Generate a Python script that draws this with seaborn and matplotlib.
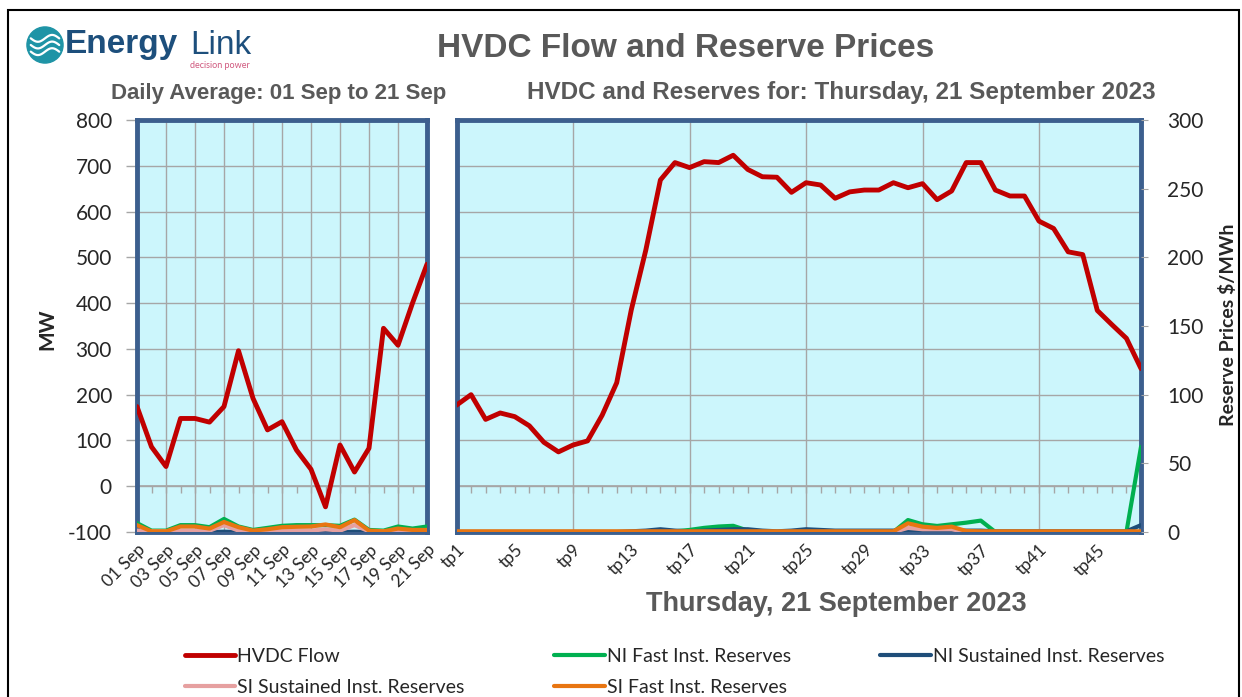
import numpy as np
import pandas as pd
import matplotlib
matplotlib.use("Agg")
import matplotlib.pyplot as plt
import seaborn as sns
from matplotlib.patches import Rectangle, Circle

# ---- daily averages (left panel) ----
days = ["01 Sep", "02 Sep", "03 Sep", "04 Sep", "05 Sep", "06 Sep", "07 Sep",
        "08 Sep", "09 Sep", "10 Sep", "11 Sep", "12 Sep", "13 Sep", "14 Sep",
        "15 Sep", "16 Sep", "17 Sep", "18 Sep", "19 Sep", "20 Sep", "21 Sep"]
hvdc_daily = [174, 86, 43, 148, 148, 140, 174, 296, 192, 123, 141, 79, 37, -45,
              90, 31, 83, 345, 308, 400, 485]
ni_fast_daily = [6.5, 1, 1, 5, 5, 3.5, 9.5, 4, 1.5, 3, 4.5, 5, 5, 5, 4.5, 9, 1.5, 1, 4, 2.5, 4]
ni_sust_daily = [0, 0, 0, 0, 0, 0, 0.2, 0, 0, 0, 0, 0, 0, 0.2, 0, 0.2, 0, 0, 0, 0, 0]
si_sust_daily = [1, 0.5, 0.5, 1, 1, 1, 5, 1, 0.5, 0.5, 1, 1, 1, 2, 1, 5, 0.5, 0.5, 1, 1, 1]
si_fast_daily = [5, 0.5, 0.5, 4, 4, 2.5, 7.3, 3.5, 1, 2, 3.5, 3.8, 4, 5.5, 3.5, 8.7, 1, 0.5, 2.5, 1.5, 1.5]

# ---- trading periods, Thursday 21 September 2023 (right panel) ----
tps = [f"tp{i}" for i in range(1, 49)]
hvdc_tp = [177, 200, 146, 160, 152, 132, 96, 75, 90, 99, 155, 226, 385, 516,
           669, 707, 696, 709, 707, 723, 692, 676, 675, 642, 663, 658, 629, 643,
           647, 647, 663, 652, 661, 626, 645, 707, 707, 647, 634, 634, 579, 563,
           512, 506, 384, 353, 323, 257]
ni_fast_tp = [0, 0, 0, 0, 0, 0, 0, 0, 0, 0, 0, 0, 0, 0, 0, 0.5, 1.5, 3, 4, 4.5,
              1, 0, 0, 0, 0, 0, 0, 0, 0, 0, 0, 8.7, 5.6, 4.4, 5.6, 6.8, 8.3, 0,
              0, 0, 0, 0, 0, 0, 0, 0, 0, 62]
ni_sust_tp = [0, 0, 0, 0, 0, 0, 0, 0, 0, 0, 0, 0, 0.5, 1, 2, 1, 0.5, 1, 1.5, 2,
              2, 1, 0.5, 1, 2, 1.5, 1, 1, 1, 1, 1, 1, 1, 1, 1, 1, 1, 0.5, 0.5,
              0.5, 0.5, 0.5, 0.5, 0.5, 0.5, 0.5, 0.5, 5]
si_sust_tp = [0, 0, 0, 0, 0, 0, 0, 0, 0, 0, 0, 0, 0, 0, 0, 0, 0, 0, 0, 0, 0, 0,
              0, 0, 0, 0, 0, 0, 0, 0, 0, 3, 2, 2, 2, 0, 0, 0, 0, 0, 0, 0, 0, 0,
              0, 0, 0, 0]
si_fast_tp = [0.5] * 31 + [6.3, 3.9, 3, 3.9, 0.7] + [0.5] * 12

series_names = ["HVDC Flow", "NI Fast Inst. Reserves", "NI Sustained Inst. Reserves",
                "SI Sustained Inst. Reserves", "SI Fast Inst. Reserves"]
colors = {"HVDC Flow": "#c00000", "NI Fast Inst. Reserves": "#00b050",
          "NI Sustained Inst. Reserves": "#1f4e79",
          "SI Sustained Inst. Reserves": "#e6a0a0", "SI Fast Inst. Reserves": "#e87511"}

daily = pd.DataFrame({"x": np.arange(len(days)), "HVDC Flow": hvdc_daily,
                      "NI Fast Inst. Reserves": ni_fast_daily,
                      "NI Sustained Inst. Reserves": ni_sust_daily,
                      "SI Sustained Inst. Reserves": si_sust_daily,
                      "SI Fast Inst. Reserves": si_fast_daily})
tpdf = pd.DataFrame({"x": np.arange(1, len(tps) + 1), "HVDC Flow": hvdc_tp,
                     "NI Fast Inst. Reserves": ni_fast_tp,
                     "NI Sustained Inst. Reserves": ni_sust_tp,
                     "SI Sustained Inst. Reserves": si_sust_tp,
                     "SI Fast Inst. Reserves": si_fast_tp})

sns.set_style("white")
plt.rcParams["font.family"] = ["Lato", "DejaVu Sans"]
plt.rcParams["axes.unicode_minus"] = False

BG = "#ccf6fc"
FRAME = "#3c5f8e"
GRID = "#a6a6a6"
GREY_TXT = "#595959"

fig = plt.figure(figsize=(12.42, 6.97), dpi=100)
bottom, height = 1 - 532 / 697, 412 / 697
axL = fig.add_axes([137 / 1242, bottom, 290 / 1242, height])
axR = fig.add_axes([456.5 / 1242, bottom, 684.5 / 1242, height])


def style_panel(ax, df, labels, grid_step, label_step):
    ax.set_facecolor(BG)
    sns.lineplot(data=df, x="x", y="HVDC Flow", ax=ax, color=colors["HVDC Flow"],
                 linewidth=3.5, label="HVDC Flow", zorder=4)
    ax.set_ylim(-100, 800)
    ax.set_yticks(np.arange(-100, 801, 100))
    ax.set_xlim(df["x"].iloc[0], df["x"].iloc[-1])
    ax.yaxis.grid(True, color=GRID, linewidth=1)
    for xv in df["x"].iloc[::grid_step]:
        ax.axvline(xv, color=GRID, linewidth=1, zorder=1)
    ax.set_xticks(df["x"].iloc[::label_step])
    ax.set_xticklabels(labels[::label_step], rotation=45, ha="right",
                       rotation_mode="anchor", fontsize=12.5)
    ax.tick_params(axis="x", length=0, pad=7)
    ax.tick_params(axis="y", length=8, color=GRID, width=1, labelsize=15, pad=10)
    ax.set_xlabel("")
    ax.set_ylabel("")
    for s in ax.spines.values():
        s.set_color(FRAME)
        s.set_linewidth(3.5)
    # category axis crossing at 0 MW, with a tick per category
    sec = ax.secondary_xaxis(100 / 900)
    sec.set_xticks(df["x"])
    sec.tick_params(axis="x", length=5, color=GRID, width=1, labelbottom=False)
    sec.spines["bottom"].set_color(GRID)
    sec.spines["bottom"].set_linewidth(1.2)

    tw = ax.twinx()
    for name in series_names[1:]:
        sns.lineplot(data=df, x="x", y=name, ax=tw, color=colors[name],
                     linewidth=3, label=name)
    tw.set_ylim(0, 300)
    tw.set_ylabel("")
    for s in tw.spines.values():
        s.set_visible(False)
    return tw


twL = style_panel(axL, daily, days, 2, 2)
twR = style_panel(axR, tpdf, tps, 8, 4)

twL.set_yticks([])
axR.tick_params(axis="y", labelleft=False, length=0)
twR.set_yticks(np.arange(0, 301, 50))
twR.tick_params(axis="y", length=5, color=GRID, labelsize=15, pad=14)

# legend
h1, l1 = axR.get_legend_handles_labels()
h2, l2 = twR.get_legend_handles_labels()
hmap = dict(zip(l1 + l2, h1 + h2))
for a in (axL, axR, twL, twR):
    if a.get_legend() is not None:
        a.get_legend().remove()
order = ["HVDC Flow", "SI Sustained Inst. Reserves", "NI Fast Inst. Reserves",
         "SI Fast Inst. Reserves", "NI Sustained Inst. Reserves"]
fig.legend([hmap[k] for k in order], order, ncol=3, loc="center",
           bbox_to_anchor=(0.543, 0.036), frameon=False, handlelength=2.6,
           handletextpad=0.1, columnspacing=4.6, labelspacing=0.75,
           borderpad=0.2, prop={"family": ["Liberation Sans Narrow", "Lato"], "size": 14})

# titles
fig.text(0.552, 0.931, "HVDC Flow and Reserve Prices", ha="center", va="center",
         fontsize=24, fontweight="bold", color=GREY_TXT, family="Liberation Sans")
fig.text(0.224, 0.866, "Daily Average: 01 Sep to 21 Sep", ha="center", va="center",
         fontsize=16, fontweight="bold", color=GREY_TXT, family="Liberation Sans")
fig.text(0.677, 0.868, "HVDC and Reserves for: Thursday, 21 September 2023",
         ha="center", va="center", fontsize=17.5, fontweight="bold", color=GREY_TXT,
         family="Liberation Sans")
fig.text(0.673, 0.133, "Thursday, 21 September 2023", ha="center", va="center",
         fontsize=19.5, fontweight="bold", color=GREY_TXT, family="Liberation Sans")
fig.text(0.038, 0.527, "MW", ha="center", va="center", rotation=90,
         fontsize=15, fontweight="bold")
fig.text(0.989, 0.534, "Reserve Prices $/MWh", ha="center", va="center", rotation=90,
         fontsize=14, fontweight="bold")

# logo
logo = fig.add_axes([26 / 1242, 1 - 64 / 697, 38 / 1242, 38 / 697])
logo.set_xlim(-1, 1)
logo.set_ylim(-1, 1)
logo.set_aspect("equal")
logo.axis("off")
logo.add_patch(Circle((0, 0), 0.95, color="#1f94a6"))
t = np.linspace(-0.75, 0.75, 50)
for off in (-0.35, 0.0, 0.35):
    logo.plot(t, off + 0.18 * np.sin(t * 4.2), color="white", linewidth=1.6)
fig.text(65 / 1242, 1 - 45 / 697, "Energy", ha="left", va="center", fontsize=24,
         fontweight="bold", color="#1d4f7c", family="Liberation Sans")
fig.text(190 / 1242, 1 - 45 / 697, "Link", ha="left", va="center", fontsize=24,
         color="#1d4f7c", family="Liberation Sans")
fig.text(190 / 1242, 1 - 66 / 697, "decision power", ha="left", va="center",
         fontsize=6.5, color="#d0587e")

# outer border
fig.patches.append(Rectangle((8 / 1242, -0.05), 1231 / 1242, 1.05 - 10 / 697,
                             transform=fig.transFigure, fill=False,
                             edgecolor="black", linewidth=1.5))

fig.savefig("out.png", dpi=100)
